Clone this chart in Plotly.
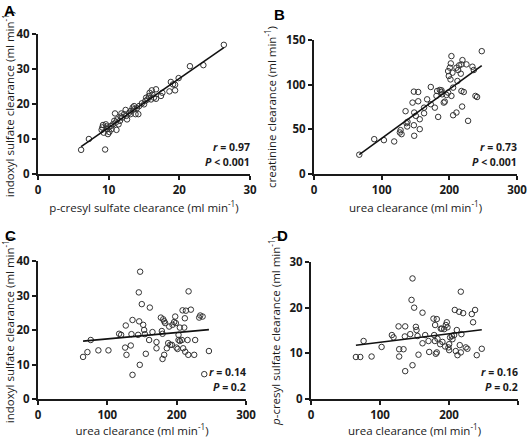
import numpy as np
import plotly.graph_objects as go

# ---- Panel A: p-cresyl sulfate clearance vs indoxyl sulfate clearance ----
a_x = [6.1, 7.2, 9.5, 26.3, 21.5, 23.4, 19.9, 18.8, 19.1, 19.4, 18.6, 19.4, 17.4, 17.6,
       16.7, 16.1, 16.7, 16.2, 15.7, 15.5, 15.2, 15.0, 16.0, 14.0, 14.2, 13.8, 13.6, 13.4,
       13.1, 12.9, 12.5, 12.2, 11.8, 10.9, 12.6, 11.9, 11.6, 11.2, 11.0, 10.6, 10.3, 10.0,
       9.8, 9.2, 9.1, 9.0, 9.6, 10.1, 9.9, 11.1, 10.8, 11.4, 12.4, 14.3, 14.7, 16.4, 10.4,
       9.3, 13.1, 13.6, 15.3, 15.8, 9.7, 11.7]
a_y = [6.9, 10.0, 7.0, 36.9, 30.8, 31.1, 27.4, 26.3, 25.6, 25.5, 23.6, 23.9, 22.3, 23.2,
       24.2, 23.9, 21.5, 22.7, 22.3, 21.3, 20.9, 19.9, 21.3, 18.8, 17.1, 17.1, 18.5, 19.0,
       18.0, 17.5, 16.6, 17.1, 17.3, 17.3, 15.6, 16.1, 15.2, 15.6, 14.7, 14.2, 13.7, 13.3,
       12.8, 14.0, 13.3, 12.6, 14.2, 12.0, 11.4, 12.6, 15.2, 14.2, 18.3, 19.4, 20.2, 21.8,
       12.8, 11.8, 17.1, 19.4, 21.8, 23.2, 13.6, 16.4]

# ---- Panel B: urea clearance vs creatinine clearance ----
b_x = [66.9, 89.0, 103.3, 118.5, 127.9, 126.9, 129.4, 135.3, 136.7, 138.2, 137.7, 145.6,
       147.6, 148.1, 147.6, 148.1, 154.0, 154.0, 150.5, 156.3, 156.3, 162.7, 162.7, 167.2,
       172.6, 172.6, 178.6, 182.0, 181.0, 183.5, 185.9, 188.4, 189.4, 191.8, 193.3, 198.2,
       198.2, 199.2, 200.7, 203.1, 202.2, 204.6, 201.7, 203.1, 205.6, 205.6, 210.5, 210.5,
       213.0, 214.5, 212.0, 216.9, 217.9, 219.4, 217.9, 221.3, 218.9, 225.3, 227.7, 234.1,
       236.1, 238.6, 241.0, 247.9, 195.8, 188.4]
b_y = [21.6, 39.0, 37.9, 36.4, 49.1, 46.5, 44.6, 70.3, 56.9, 58.4, 53.2, 79.9,
       92.2, 68.8, 54.6, 42.8, 91.8, 81.4, 65.1, 61.3, 50.2, 68.0, 74.3, 83.6,
       97.4, 78.1, 74.3, 92.9, 87.4, 63.9, 94.1, 91.8, 89.2, 79.9, 81.0, 91.1,
       115.2, 109.7, 119.0, 132.0, 123.8, 113.4, 105.9, 87.4, 96.7, 65.8, 68.8, 119.0,
       116.4, 121.6, 104.1, 112.3, 122.7, 127.5, 92.9, 91.8, 75.5, 122.7, 59.5, 120.1,
       116.4, 87.4, 86.2, 137.5, 88.5, 93.7]

# ---- Panel C: urea clearance vs indoxyl sulfate clearance ----
c_x = [65.0, 71.3, 76.1, 87.1, 101.6, 117.0, 119.9, 125.7, 126.6, 127.6, 133.8, 134.8,
       136.3, 136.3, 144.4, 145.9, 145.4, 147.3, 146.8, 149.7, 151.7, 153.1, 154.1, 155.5,
       161.3, 160.3, 165.1, 170.9, 170.9, 177.2, 178.6, 179.6, 180.6, 182.0, 179.6, 182.0,
       183.4, 185.8, 187.8, 189.2, 190.7, 193.1, 194.0, 196.4, 197.9, 198.8, 199.8, 201.3,
       202.7, 202.7, 204.6, 204.6, 207.5, 208.5, 210.9, 209.4, 211.8, 213.3, 215.7, 212.3,
       216.7, 217.2, 220.5, 225.3, 226.7, 232.5, 234.0, 237.4, 239.8, 246.5]
c_y = [12.2, 13.6, 17.1, 14.1, 14.1, 18.9, 18.6, 14.9, 21.3, 12.8, 15.5, 18.8,
       22.9, 7.0, 18.6, 22.5, 30.9, 36.9, 9.9, 27.5, 21.5, 20.0, 18.8, 13.1,
       26.5, 17.1, 19.4, 16.5, 14.7, 23.6, 19.7, 18.9, 23.1, 22.5, 11.6, 12.8,
       22.0, 14.7, 16.2, 21.0, 15.7, 15.7, 21.5, 22.3, 23.9, 22.0, 14.9, 14.5,
       18.6, 17.1, 20.7, 16.8, 17.1, 25.7, 20.7, 14.7, 23.4, 25.6, 17.1, 13.7,
       12.8, 31.2, 25.9, 12.8, 17.1, 23.6, 24.2, 23.9, 7.2, 13.9]

# ---- Panel D: urea clearance vs p-cresyl sulfate clearance ----
d_x = [65.1, 71.4, 76.2, 87.8, 102.3, 117.2, 119.6, 127.8, 126.9, 127.8, 134.1, 136.0,
       136.5, 136.5, 143.8, 145.7, 147.1, 147.1, 149.5, 152.0, 152.9, 154.4, 155.8, 161.6,
       161.6, 165.5, 170.3, 171.3, 177.5, 178.5, 179.5, 179.9, 182.3, 182.3, 180.9, 183.3,
       187.2, 188.1, 189.6, 190.5, 193.0, 194.4, 195.4, 196.8, 197.8, 199.2, 200.2, 200.2,
       201.6, 204.1, 205.0, 207.4, 208.4, 209.8, 211.3, 212.3, 214.7, 215.6, 217.1, 217.1,
       218.0, 220.5, 224.3, 226.7, 233.0, 234.9, 237.8, 240.2, 247.5]
d_y = [9.2, 9.2, 12.7, 9.3, 11.4, 14.0, 13.5, 10.9, 15.9, 9.3, 10.9, 13.7,
       15.9, 6.1, 14.2, 21.7, 26.4, 7.4, 20.0, 15.8, 15.1, 13.8, 9.7, 18.9,
       12.2, 14.0, 12.7, 10.3, 17.6, 14.0, 12.7, 16.2, 17.5, 10.2, 9.9, 13.2,
       12.0, 15.4, 15.4, 12.5, 15.3, 11.5, 16.2, 16.8, 15.7, 11.3, 10.7, 12.0,
       13.5, 13.8, 13.1, 14.0, 19.5, 10.5, 15.1, 9.6, 19.1, 11.8, 10.2, 23.5,
       14.2, 18.8, 11.3, 11.0, 18.6, 16.8, 19.5, 9.6, 11.0]

stats_text = [("0.97", "< 0.001"), ("0.73", "< 0.001"), ("0.14", "= 0.2"), ("0.16", "= 0.2")]
panel_letters = ["A", "B", "C", "D"]
x_titles = ["p-cresyl sulfate clearance (ml min<sup>-1</sup>)",
            "urea clearance (ml min<sup>-1</sup>)",
            "urea clearance (ml min<sup>-1</sup>)",
            "urea clearance (ml min<sup>-1</sup>)"]
y_titles = ["indoxyl sulfate clearance (ml min<sup>-1</sup>)",
            "creatinine clearance (ml min<sup>-1</sup>)",
            "indoxyl sulfate clearance (ml min<sup>-1</sup>)",
            "<i>p</i>-cresyl sulfate clearance (ml min<sup>-1</sup>)"]
x_ranges = [(0, 30, 10), (0, 300, 100), (0, 300, 100), (0, 300, 100)]
y_ranges = [(0, 40, 10), (0, 150, 50), (0, 40, 10), (0, 30, 10)]

W, H = 528, 438
# pixel boxes of plot areas: (left, right, top, bottom)
boxes = [(38, 250, 34, 174), (314, 517, 40, 174), (38, 246, 261, 399), (311, 518, 262, 399)]
letter_pos = [(2, 0), (272, 4), (3, 225), (275, 225)]

FONT = "Open Sans"
INK = "#1a1a1a"

fig = go.Figure()
datasets = [(a_x, a_y), (b_x, b_y), (c_x, c_y), (d_x, d_y)]
for i, (xs, ys) in enumerate(datasets):
    ax = "" if i == 0 else str(i + 1)
    xs_a = np.array(xs)
    ys_a = np.array(ys)
    fig.add_trace(go.Scatter(x=xs_a, y=ys_a, mode="markers", xaxis="x" + ax, yaxis="y" + ax,
                             marker=dict(symbol="circle-open", size=5.5, color="#333333",
                                         line=dict(width=1, color="#333333")),
                             showlegend=False, cliponaxis=False))
    slope, inter = np.polyfit(xs_a, ys_a, 1)
    lx = np.array([xs_a.min(), xs_a.max()])
    fig.add_trace(go.Scatter(x=lx, y=slope * lx + inter, mode="lines", xaxis="x" + ax,
                             yaxis="y" + ax, line=dict(color="#111111", width=1.6),
                             showlegend=False))

    l, r, t, b = boxes[i]
    xd = [l / W, r / W]
    yd = [1 - b / H, 1 - t / H]
    x0, x1, dx = x_ranges[i]
    y0, y1, dy = y_ranges[i]
    common = dict(showline=True, linewidth=2, linecolor=INK, ticks="outside", ticklen=4,
                  tickwidth=2, tickcolor=INK, showgrid=False, zeroline=False,
                  automargin=False,
                  tickfont=dict(family=FONT, size=11.5, color=INK, weight="bold"))
    fig.layout["xaxis" + ax] = dict(domain=xd, range=[x0, x1], dtick=dx, tick0=0,
                                    anchor="y" + ax,
                                    title=dict(text=x_titles[i], standoff=8,
                                               font=dict(family=FONT, size=11.5, color=INK)),
                                    **common)
    fig.layout["yaxis" + ax] = dict(domain=yd, range=[y0, y1], dtick=dy, tick0=0,
                                    anchor="x" + ax,
                                    title=dict(text=y_titles[i], standoff=7,
                                               font=dict(family=FONT, size=11.5, color=INK)),
                                    **common)
    # stats annotation
    rr, pp = stats_text[i]
    fig.add_annotation(xref="paper", yref="paper", x=(r + 2) / W, y=1 - (b - 27) / H,
                       xanchor="right", yanchor="middle", showarrow=False,
                       text=f"<b><i>r</i> = {rr}</b>",
                       font=dict(family=FONT, size=10.5, color=INK))
    fig.add_annotation(xref="paper", yref="paper", x=(r + 2) / W, y=1 - (b - 12) / H,
                       xanchor="right", yanchor="middle", showarrow=False,
                       text=f"<b><i>P</i> {pp}</b>",
                       font=dict(family=FONT, size=10.5, color=INK))
    lx_, ly_ = letter_pos[i]
    fig.add_annotation(xref="paper", yref="paper", x=lx_ / W, y=1 - ly_ / H,
                       xanchor="left", yanchor="top", showarrow=False,
                       text=f"<b>{panel_letters[i]}</b>",
                       font=dict(family="Liberation Sans", size=15, color="#000000"))

fig.update_layout(width=W, height=H, margin=dict(l=0, r=0, t=0, b=0, autoexpand=False),
                  paper_bgcolor="white", plot_bgcolor="white",
                  font=dict(family=FONT, color=INK))
fig.write_html("out.html", config={"displayModeBar": False},
               post_script="document.body.style.margin='0';document.body.style.overflow='hidden';")
